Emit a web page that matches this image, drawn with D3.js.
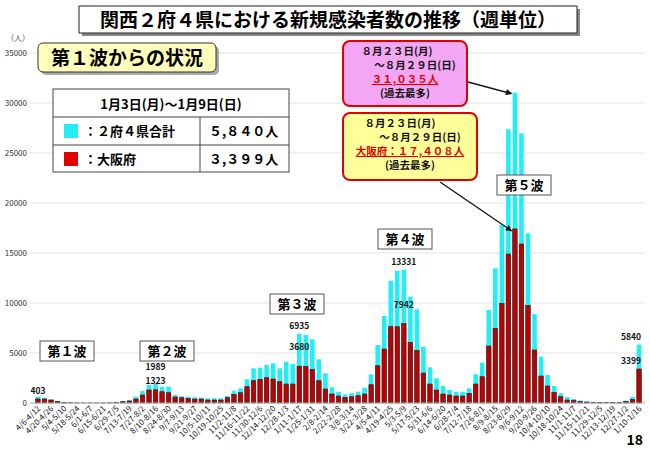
<!DOCTYPE html>
<html>
<head>
<meta charset="utf-8">
<script src="https://cdn.jsdelivr.net/npm/d3@7"></script>
<style>
body { margin: 0; background: #fff; }
text { font-family: "Noto Sans CJK JP", "Noto Sans", sans-serif; }
</style>
</head>
<body>
<script>
//weekly totals, 2 prefectures + 4 prefectures (Kansai)
var totalCases = [640,530,370,200,100,50,20,10,10,10,15,30,80,200,300,
    630,1200,1800,1989,1630,1630,800,670,630,570,530,470,470,470,700,
    1230,1470,2370,3470,3530,3800,3970,3470,4130,3900,6935,6800,6370,4370,2970,
    1570,1130,860,970,1130,1530,2870,5800,8700,12230,13230,13331,10630,9370,5630,
    3570,2470,1700,1300,1130,1130,1460,2870,4030,9300,13470,17800,27370,31035,26970,
    16970,8900,4630,2800,1700,970,600,400,250,150,100,80,70,70,100,
    250,600,5840];
//weekly Osaka
var osakaCases = [403,400,300,170,70,30,10,5,5,5,10,20,50,130,200,
    400,800,1300,1323,1130,1030,600,530,470,400,400,300,300,300,530,
    870,1030,1630,2230,2370,2530,2400,2130,1900,1900,3680,3670,3370,2230,1400,
    900,700,570,630,730,900,1830,3730,5400,7630,7630,7942,6070,5270,3000,
    1900,1300,900,800,700,700,970,1900,2630,5700,7470,9970,14900,17408,15900,
    9770,5300,2700,1700,1070,630,300,250,150,100,60,50,40,40,60,
    150,350,3399];
//every other week gets a label
var weekLabels = ["4/6-4/12","4/20-4/26","5/4-5/10","5/18-5/24","6/1-6/7","6/15-6/21",
    "6/29-7/5","7/13-7/19","7/27-8/2","8/10-8/16","8/24-8/30","9/7-9/13","9/21-9/27",
    "10/5-10/11","10/19-10/25","11/2-11/8","11/16-11/22","11/30-12/6","12/14-12/20",
    "12/28-1/3","1/11-1/17","1/25-1/31","2/8-2/14","2/22-2/28","3/8-3/14","3/22-3/28",
    "4/5-4/11","4/19-4/25","5/3-5/9","5/17-5/23","5/31-6/6","6/14-6/20","6/28-7/4",
    "7/12-7/18","7/26-8/1","8/9-8/15","8/23-8/29","9/6-9/12","9/20-9/26","10/4-10/10",
    "10/18-10/24","11/1-11/7","11/15-11/21","11/29-12/5","12/13-12/19","12/27-1/2","1/10-1/16"];
var yTicks = [0,5000,10000,15000,20000,25000,30000,35000];
//numbers printed over some bars: [week index, value, which series]
var peakNotes = [[0,403,"t"],[18,1989,"t"],[18,1323,"o"],[40,6935,"t"],[40,3680,"o"],
    [56,13331,"t"],[56,7942,"o"],[92,5840,"t"],[92,3399,"o"]];
var waveNames = ["第１波","第２波","第３波","第４波","第５波"];

var width = 650, height = 449;
var svg = d3.select("body").append("svg")
    .attr("width", width).attr("height", height);

var weeks = d3.range(totalCases.length);
var x = d3.scaleBand().domain(weeks).range([35, 642]).paddingInner(0.3).paddingOuter(0.1);
var y = d3.scaleLinear().domain([0, 35000]).range([403, 53]);

//gridlines
svg.append("g").selectAll("line").data(yTicks).enter().append("line")
    .attr("x1", 30).attr("x2", 645)
    .attr("y1", function(d){ return y(d); }).attr("y2", function(d){ return y(d); })
    .attr("stroke", "#dcdcdc").attr("stroke-width", 0.8);
svg.append("g").selectAll("text").data(yTicks).enter().append("text")
    .attr("x", 27).attr("y", function(d){ return y(d) + 3; })
    .attr("text-anchor", "end").attr("font-size", 8).attr("fill", "#333")
    .text(function(d){ return d; });
svg.append("text").attr("x", 6).attr("y", 41).attr("font-size", 8).attr("fill", "#555").text("（人）");

//bars
svg.append("g").selectAll("rect").data(weeks).enter().append("rect")
    .attr("x", function(d){ return x(d); }).attr("width", x.bandwidth())
    .attr("y", function(d){ return y(totalCases[d]); })
    .attr("height", function(d){ return y(0) - y(totalCases[d]); })
    .attr("fill", "#22eef8");
svg.append("g").selectAll("rect").data(weeks).enter().append("rect")
    .attr("x", function(d){ return x(d); }).attr("width", x.bandwidth())
    .attr("y", function(d){ return y(osakaCases[d]); })
    .attr("height", function(d){ return y(0) - y(osakaCases[d]); })
    .attr("fill", "#c00000").attr("stroke", "#222").attr("stroke-width", 0.6);
svg.append("line").attr("x1", 30).attr("x2", 645).attr("y1", y(0)).attr("y2", y(0))
    .attr("stroke", "#bbb");

//x labels
svg.append("g").selectAll("text").data(weekLabels).enter().append("text")
    .attr("transform", function(d, i){
        return "translate(" + (x(i * 2) + x.bandwidth() / 2 + 3) + "," + 409 + ") rotate(-45)";
    })
    .attr("text-anchor", "end").attr("font-size", 8).attr("fill", "#111")
    .text(function(d){ return d; });

//value notes
svg.append("g").selectAll("text").data(peakNotes).enter().append("text")
    .attr("x", function(d){ return x(d[0]) + x.bandwidth() / 2 + (d[0] == 92 ? -8 : 0); })
    .attr("y", function(d){
        if (d[0] == 92) return d[2] == "t" ? 340 : 364;
        if (d[0] == 18) return d[2] == "t" ? 370 : 384;
        if (d[2] == "t") return y(d[1]) - 5;
        return y(d[1]) - 16;
    })
    .attr("text-anchor", "middle").attr("font-size", 8.5).attr("font-weight", "bold")
    .attr("fill", "#111").text(function(d){ return d[1]; });

//wave boxes
var wavePos = [[40,341],[140,341],[270,294],[378,229],[497,175]];
var waves = svg.append("g").selectAll("g").data(waveNames).enter().append("g")
    .attr("transform", function(d, i){ return "translate(" + wavePos[i][0] + "," + wavePos[i][1] + ")"; });
waves.append("rect").attr("width", 54).attr("height", 20)
    .attr("fill", "#fff").attr("stroke", "#555");
waves.append("text").attr("x", 27).attr("y", 15).attr("text-anchor", "middle")
    .attr("font-size", 13).attr("font-weight", "bold").text(function(d){ return d; });

//title
svg.append("rect").attr("x", 82).attr("y", 9).attr("width", 498).attr("height", 27).attr("fill", "#888");
svg.append("rect").attr("x", 79).attr("y", 6).attr("width", 498).attr("height", 27)
    .attr("fill", "#fff").attr("stroke", "#222");
svg.append("text").attr("x", 328).attr("y", 27).attr("text-anchor", "middle")
    .attr("font-size", 19).attr("font-weight", "bold")
    .text("関西２府４県における新規感染者数の推移（週単位）");

//subtitle
svg.append("rect").attr("x", 41).attr("y", 46).attr("width", 178).attr("height", 29).attr("rx", 5).attr("fill", "#aaa");
svg.append("rect").attr("x", 38).attr("y", 43).attr("width", 178).attr("height", 29).attr("rx", 5)
    .attr("fill", "#ffffbb").attr("stroke", "#333");
svg.append("text").attr("x", 127).attr("y", 65).attr("text-anchor", "middle")
    .attr("font-size", 19).attr("font-weight", "bold").text("第１波からの状況");

//legend table
var tbl = svg.append("g");
tbl.append("rect").attr("x", 53).attr("y", 89).attr("width", 236).attr("height", 83)
    .attr("fill", "#fff").attr("stroke", "#444");
tbl.append("line").attr("x1", 53).attr("x2", 289).attr("y1", 117).attr("y2", 117).attr("stroke", "#444");
tbl.append("line").attr("x1", 53).attr("x2", 289).attr("y1", 145).attr("y2", 145).attr("stroke", "#444");
tbl.append("line").attr("x1", 200).attr("x2", 200).attr("y1", 117).attr("y2", 172).attr("stroke", "#444");
tbl.append("text").attr("x", 171).attr("y", 109).attr("text-anchor", "middle")
    .attr("font-size", 13).attr("font-weight", "bold").text("1月3日(月)～1月9日(日)");
var legRows = [["#22eef8", "：２府４県合計", "５,８４０人"], ["#e00000", "：大阪府", "３,３９９人"]];
legRows.forEach(function(r, i){
    var yy = 117 + i * 28;
    tbl.append("rect").attr("x", 64).attr("y", yy + 7).attr("width", 14).attr("height", 14).attr("fill", r[0]);
    tbl.append("text").attr("x", 84).attr("y", yy + 19).attr("font-size", 13).attr("font-weight", "bold").text(r[1]);
    tbl.append("text").attr("x", 209).attr("y", yy + 19).attr("font-size", 13).attr("font-weight", "bold").text(r[2]);
});

//callouts
var calls = [
    {x: 343, y: 41, w: 124, h: 65, fill: "#f3a6f3",
     lines: [["８月２３日(月)", -8, "#111"], ["～８月２９日(日)", 10, "#111"], ["３１,０３５人", 0, "#e00000", true], ["(過去最多)", 0, "#111"]]},
    {x: 343, y: 113, w: 134, h: 67, fill: "#ffff99",
     lines: [["８月２３日(月)", -10, "#111"], ["～８月２９日(日)", 10, "#111"], ["大阪府：１７,４０８人", 0, "#e00000", true], ["(過去最多)", 0, "#111"]]}
];
calls.forEach(function(c){
    svg.append("rect").attr("x", c.x).attr("y", c.y).attr("width", c.w).attr("height", c.h)
        .attr("rx", 7).attr("fill", c.fill).attr("stroke", "#e00000").attr("stroke-width", 2);
    c.lines.forEach(function(l, i){
        var t = svg.append("text").attr("x", c.x + c.w / 2 + l[1]).attr("y", c.y + 14 + i * 14)
            .attr("text-anchor", "middle").attr("font-size", 10.5).attr("font-weight", "bold")
            .attr("fill", l[2]).text(l[0]);
        if (l[3]) t.attr("text-decoration", "underline");
    });
});
svg.append("defs").append("marker").attr("id", "ah").attr("viewBox", "0 0 10 10")
    .attr("refX", 9).attr("refY", 5).attr("markerWidth", 5).attr("markerHeight", 5).attr("orient", "auto")
    .append("path").attr("d", "M0,0L10,5L0,10z").attr("fill", "#111");
var pk = 73;
svg.append("line").attr("x1", 468).attr("y1", 82)
    .attr("x2", x(pk) - 1).attr("y2", y(totalCases[pk]) + 1)
    .attr("stroke", "#111").attr("stroke-width", 1.3).attr("marker-end", "url(#ah)");
svg.append("line").attr("x1", 440).attr("y1", 182)
    .attr("x2", x(pk) - 1).attr("y2", y(osakaCases[pk]) + 2)
    .attr("stroke", "#111").attr("stroke-width", 1.3).attr("marker-end", "url(#ah)");

svg.append("text").attr("x", 643).attr("y", 445).attr("text-anchor", "end")
    .attr("font-size", 14).attr("font-weight", "bold").text("18");
</script>
</body>
</html>
